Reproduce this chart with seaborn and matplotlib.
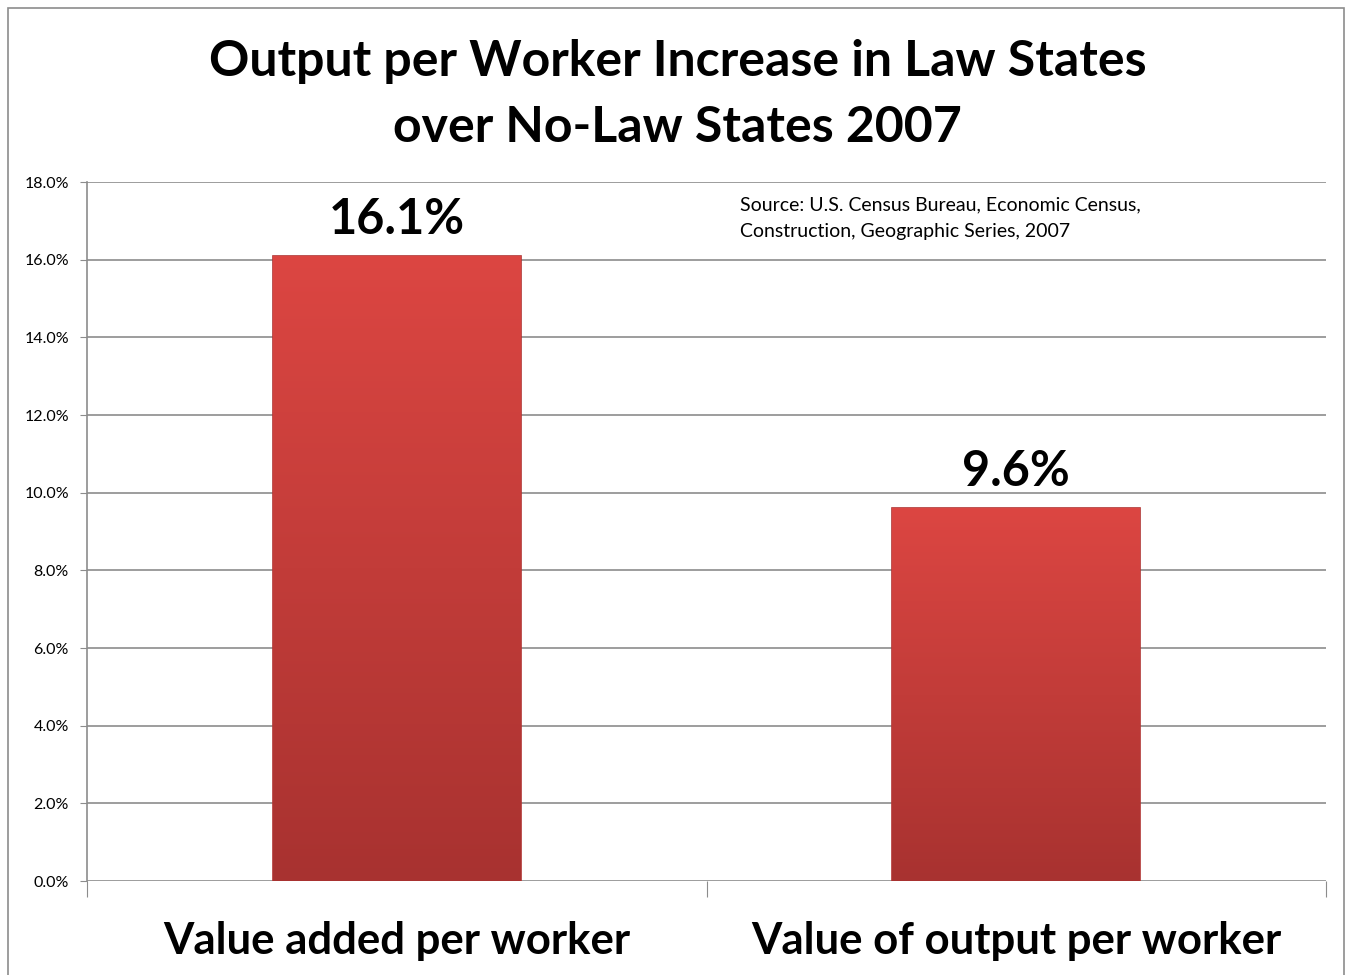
import numpy as np
import pandas as pd
import matplotlib.pyplot as plt
import seaborn as sns
from matplotlib.patches import Rectangle
from matplotlib.ticker import MultipleLocator, PercentFormatter

# Data
categories = ['Value added per worker', 'Value of output per worker']
values = [16.1, 9.6]
value_labels = ['16.1%', '9.6%']

title = 'Output per Worker Increase in Law States\nover No-Law States 2007'
source_note = 'Source: U.S. Census Bureau, Economic Census,\nConstruction, Geographic Series, 2007'

sns.set_style('white')
plt.rcParams['font.family'] = ['Lato', 'DejaVu Sans']
plt.rcParams['text.color'] = 'black'
plt.rcParams['ytick.labelcolor'] = 'black'

df = pd.DataFrame({'category': categories, 'value': values})

fig = plt.figure(figsize=(13.47, 9.75), dpi=100)
ax = fig.add_axes([0.0646, 0.0964, 0.9198, 0.7169])

sns.barplot(data=df, x='category', y='value', color='#d9443f', width=0.4, ax=ax)

# gradient fill on bars (lighter red top, darker red bottom)
grad = np.linspace(0, 1, 256).reshape(-1, 1)
cmap = plt.matplotlib.colors.LinearSegmentedColormap.from_list('bar', ['#a83230', '#dc4642'])
for p in ax.patches:
    x0, y0 = p.get_x(), p.get_y()
    w, h = p.get_width(), p.get_height()
    im = ax.imshow(grad, extent=[x0, x0 + w, y0, y0 + h], origin='lower',
                   cmap=cmap, aspect='auto', zorder=p.get_zorder() + 0.1)
    im.set_clip_path(p)
    p.set_edgecolor('#b03533')
    p.set_linewidth(1.2)

ax.set_xlim(-0.5, 1.5)
ax.set_ylim(0, 18)
ax.yaxis.set_major_locator(MultipleLocator(2))
ax.yaxis.set_major_formatter(PercentFormatter(decimals=1))
ax.grid(axis='y', color='#8c8c8c', linewidth=1.2)
ax.set_axisbelow(True)
for side in ['top', 'right', 'bottom']:
    ax.spines[side].set_visible(False)
ax.spines['left'].set_color('#8c8c8c')
ax.spines['left'].set_linewidth(1.2)

ax.tick_params(axis='y', length=5, color='#8c8c8c', labelsize=11.5, pad=8, left=True)
ax.set_xticks([-0.5, 0.5, 1.5])
ax.set_xticklabels(['', '', ''])
ax.tick_params(axis='x', length=11.5, color='#8c8c8c', bottom=True, direction='out')
ax.set_xlabel('')
ax.set_ylabel('')

# category labels under bars
for i, c in enumerate(categories):
    ax.text(i, -1.55, c, ha='center', va='center', fontsize=31.5, fontweight='bold')

# value labels above bars
for i, (v, lab) in enumerate(zip(values, value_labels)):
    ax.annotate(lab, (i, v), xytext=(0, 10), textcoords='offset points',
                ha='center', va='bottom', fontsize=35, fontweight='bold')

ax.text(0.527, 0.98, source_note, transform=ax.transAxes, ha='left', va='top',
        fontsize=14, linespacing=1.7)

fig.text(0.503, 0.903, title, ha='center', va='center', fontsize=36,
         fontweight='bold', linespacing=1.55)

# chart border
fig.patches.append(Rectangle((0.006, -0.01), 0.992, 1.002, transform=fig.transFigure,
                             fill=False, edgecolor='#8c8c8c', linewidth=1.2))

fig.savefig('out.png', dpi=100)
